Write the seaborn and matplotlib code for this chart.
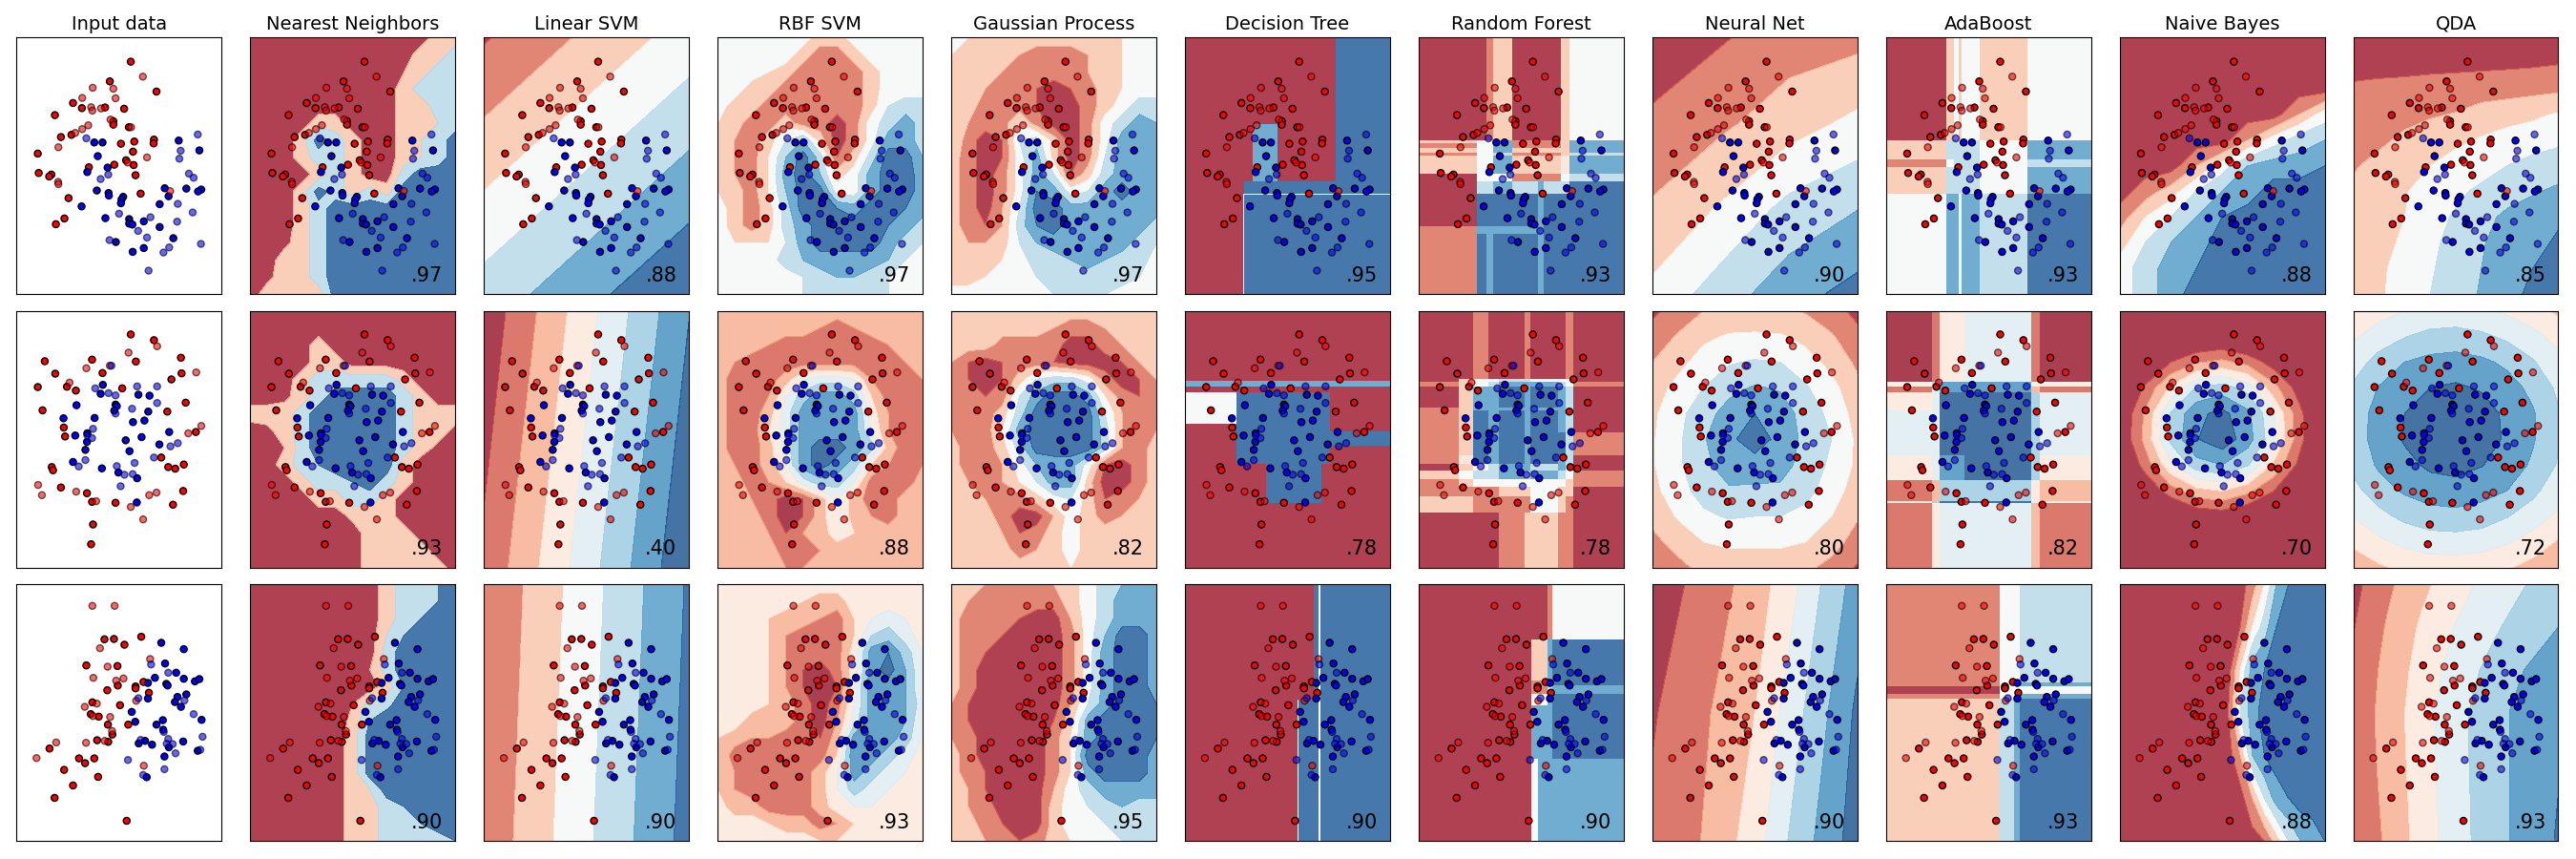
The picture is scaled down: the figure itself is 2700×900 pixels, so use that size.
import numpy as np
import pandas as pd
import seaborn as sns
import matplotlib.pyplot as plt

# ---------------------------
# 1. Scatter points (crop pixels)
# ---------------------------
moons_train_red = [(382,104),(316,166),(463,198),(200,234),(228,250),(301,248),(361,252),(143,272),(327,291),(327,302),(376,310),(162,341),(195,334),(393,355),(351,362),(455,349),(454,361),(89,393),(389,387),(367,414),(330,428),(391,429),(250,436),(92,454),(132,459),(125,465),(397,461),(186,533),(413,519),(173,597),(146,615)]
moons_test_red = [(420,151),(262,186),(327,189),(334,219),(229,218),(257,247),(261,258),(288,251),(318,286),(248,304),(229,316),(207,328),(383,310),(154,373),(433,405),(372,421),(153,482),(154,489),(506,511)]
moons_train_blue = [(267,358),(293,358),(533,352),(598,383),(278,401),(309,437),(245,451),(275,509),(312,517),(313,525),(358,529),(353,537),(351,549),(489,502),(557,503),(604,506),(594,512),(501,527),(473,552),(227,559),(302,596),(377,599),(377,613),(387,616),(423,606),(473,624),(516,659),(335,671),(423,690),(388,702)]
moons_test_blue = [(242,345),(593,333),(539,384),(535,409),(565,456),(580,469),(311,459),(287,473),(530,551),(577,578),(345,582),(444,593),(528,607),(405,636),(433,657),(315,665),(603,677),(503,688),(485,704),(438,761)]

circles_train_red = [(382,92),(455,110),(111,176),(260,171),(398,177),(540,165),(144,215),(293,213),(542,214),(510,233),(89,257),(181,256),(209,268),(355,261),(555,306),(104,330),(497,334),(171,384),(175,412),(587,398),(478,478),(133,508),(137,518),(500,508),(522,513),(549,500),(162,572),(244,590),(547,583),(260,617),(334,620),(515,626),(263,688),(257,750)]
circles_test_red = [(465,129),(375,149),(316,190),(242,198),(588,211),(189,243),(604,379),(563,402),(90,564),(102,596),(210,585),(273,615),(440,596),(463,588),(382,633),(421,672)]
circles_train_blue = [(294,250),(287,278),(406,281),(441,284),(211,314),(334,312),(338,317),(330,331),(437,334),(170,355),(268,354),(389,367),(425,362),(245,402),(207,409),(244,429),(366,424),(416,414),(503,398),(472,437),(239,454),(378,458),(200,492),(291,512),(343,525),(402,543),(401,619)]
circles_test_blue = [(321,190),(270,261),(312,276),(334,283),(402,255),(465,255),(465,307),(386,325),(334,340),(263,388),(245,408),(260,417),(530,433),(507,443),(455,478),(239,486),(218,506),(338,505),(394,495),(362,532),(388,530),(350,568)]

blobs_train_red = [(299,195),(329,194),(415,187),(362,212),(242,277),(340,279),(341,340),(397,343),(397,349),(422,329),(439,363),(308,355),(261,393),(348,402),(256,430),(281,438),(310,463),(374,463),(324,494),(276,512),(311,517),(126,538),(219,569),(238,584),(267,569),(172,605),(279,627),(200,654),(142,693),(369,765)]
blobs_test_red = [(261,90),(331,90),(285,223),(443,257),(309,281),(264,316),(359,318),(336,325),(275,397),(237,407),(399,388),(263,436),(317,439),(323,483),(300,514),(147,519),(241,520),(85,568),(423,592)]
blobs_train_blue = [(478,206),(549,226),(490,271),(525,300),(458,316),(436,332),(549,319),(584,327),(598,320),(494,335),(498,340),(436,381),(529,376),(557,368),(521,392),(540,407),(385,423),(396,454),(483,449),(463,463),(605,448),(484,479),(427,514),(407,522),(449,526),(547,516),(502,534),(593,545),(488,563),(432,628)]
blobs_test_blue = [(446,274),(500,300),(406,380),(551,387),(580,430),(486,486),(608,501),(413,511),(500,508),(495,523),(514,524),(523,553),(601,542),(373,574),(488,603),(421,621)]

# crop-pixel extents of the panels in each row
row_xlim = [(22, 668), (22, 668), (22, 668)]
row_ylim = [(28, 835), (18, 823), (22, 828)]

names = ["Input data", "Nearest Neighbors", "Linear SVM", "RBF SVM", "Gaussian Process",
         "Decision Tree", "Random Forest", "Neural Net", "AdaBoost", "Naive Bayes", "QDA"]
scores = [[".97", ".88", ".97", ".97", ".95", ".93", ".90", ".93", ".88", ".85"],
          [".93", ".40", ".88", ".82", ".78", ".78", ".80", ".82", ".70", ".72"],
          [".90", ".90", ".93", ".95", ".90", ".90", ".90", ".93", ".88", ".93"]]

# ---------------------------
# 2. Decision surfaces read by eye
# strings: one hex digit per node, value = band index * 2; lists: band index as float
# ---------------------------
knn_1 = ["0000000000044","0000000000448","0000000002488","0000000004888","0000000004488","0000440004668","0004c8400468c","000488400468c","0000484008ccc","0004c8484cccc","00048cccccccc","00048cccccccc","00148cccccccc","00448cccccccc","01448cccccccc","04444cccccccc"]
lin_1 = [[.40, 2.95], [3.92, 6.47]]
rbf_1 = ["6666664466666","6666642246666","6665422224666","6644222224666","6442222224788","54224220268a8","4324794026aa8","43259c8148cc9","5325ac946acca","54259cc66acca","64248ccbaccba","64248accccba8","65557acccca87","666689aaaa976","6666678998766","6666678888776"]
gp_1 = ["6544444444566","5444322234566","5443222234566","5432210124566","5422210024688","53225200268a9","5201784026aaa","42016a4027aaa","42026a7148aaa","42026ba67acaa","42037ccaaaaaa","42138bcaaaaa8","433479aaaaa87","44456889a9886","4456678888876","6666667777666"]
tree_1 = ([15,144,146,165,220,350,470], [118,390,570,608,611,925], ["00000c","000a0c","00cccc","066666","06cccc"])
rf_1 = ([535,665,685,700,742,800,812,850,868,989], [118,440,450,465,480,488,545,570,610,710,735,925],
        ["002400046","466a2224a","266a2224a","466a4444a","266822248","466a4445a","066622268","088a8a88c","0ccccaccc","2aaaaaccc","2caccaccc"])
mlp_1 = [[-.2, .4, 1.0, 1.2], [.7, 1.3, 2.05, 2.75], [1.63, 2.6, 3.8, 4.47], [2.75, 4.0, 5.1, 5.85]]
ada_1 = ([3,141,157,167,175,215,324,468], [118,440,500,525,610,925], ["0464646","488886a","2688868","488886a","6aa6a8c"])
nb_1 = ["000000000","000000000","000000000","000000036","000003689","000369aab","02479accc","2579bcccc","479accccc","68abccccc","68acccccc"]
qda_1 = [[-1,-1,-1,-1,-1,-.9,-.8,-.7,-.6],
         [0,.05,.1,.15,.2,.25,.3,.35,.45],
         [.7,.8,.85,.95,1.0,1.05,1.1,1.2,1.3],
         [.87,1.1,1.2,1.4,1.55,1.9,2.1,2.3,2.6],
         [1.15,1.3,1.7,2,2.3,2.6,2.9,3.1,3.3],
         [1.4,1.8,2.1,2.5,2.9,3.1,3.5,3.8,4.0],
         [1.7,2.0,2.4,3.0,3.3,3.7,4.1,4.4,4.7],
         [2,2.2,2.5,3.2,3.6,4.2,4.7,5,5.4],
         [2.1,2.3,2.6,3.3,3.8,4.4,5,5.3,5.6],
         [2.2,2.4,2.7,3.4,3.9,4.5,5,5.5,6],
         [2.3,2.4,2.8,3.5,4,4.6,5.2,5.7,6.1]]

knn_2 = ["0000000000000","0000000000000","0000400000000","0000440000000","0004888884000","00148cccc8400","4448ccccc8444","0148ccccc8441","0028ccccc8410","0048acccc4000","000488ac84000","0000448840000","0000003440000","0000000444000","0000000444400","0000000444440"]
lin_2 = [[-.22, 6.46], [.71, 7.39]]
rbf_2 = ["4444444444444","4444443234444","4443222222344","4322222222234","4212478873223","42237acca5223","42248cccc6322","42258cccc7322","42248ceeca422","43247ceca5323","442358aa72124","4432014742244","4442014743244","4443134654444","4444223444444","4444334444444"]
gp_2 = ["4444444444444","4444443223444","4442222002344","3101221000134","3101478862013","32127acca5213","32248cccc7323","3225acccc8323","42248cccc8324","421369aa61024","431357aa40024","4432246741234","4442003642344","4443124644444","4444234644444","4444444544444"]
tree_2 = ([15,130,195,318,336,470], [18,238,255,273,372,396,440,498,620,823], ["00000","aaaaa","00000","6ccc0","0ccc0","0cccc","0ccc0","00c00","00000"])
rf_2 = ([535,625,655,690,712,770,782,843,860,878,989], [18,230,240,255,320,330,400,470,498,520,545,570,600,650,823],
        ["0020020020","0466886660","2468aaa862","04aacaca80","24aaaaaa80","24cacaca80","24cacacc82","25cacaca80","0468aa8a60","4688a8a862","2466666642","2222446440","4422226420","0000244220"])
mlp_2 = [[.3,.9,1.5,1.8,1.8,1.7,1.4,.9,.2],
         [.9,1.6,2.3,2.6,2.65,2.6,2.2,1.6,.8],
         [1.5,2.2,2.9,3.4,3.6,3.5,2.9,2.2,1.3],
         [2.0,2.8,3.5,4.2,4.6,4.4,3.6,2.8,1.8],
         [2.3,3.2,4.1,4.9,5.5,5.0,4.1,3.2,2.1],
         [2.4,3.3,4.4,5.3,6.0,5.2,4.2,3.5,2.3],
         [2.4,3.3,4.3,4.9,5.1,4.9,4.1,3.3,2.3],
         [2.2,3.1,3.9,4.4,4.3,4.3,3.8,3.0,2.0],
         [1.8,2.6,3.3,3.6,3.5,3.5,3.2,2.5,1.6],
         [1.2,1.9,2.5,2.7,2.7,2.7,2.5,1.9,1.1],
         [.6,1.2,1.8,1.9,1.9,1.9,1.7,1.2,.4]]
ada_2 = ([3,108,124,180,332,352,468], [18,240,255,272,330,470,548,615,621,823], ["026820","6acc66","28cc42","68eea8","88eea8","68cea6","24aa64","6aee66","268842"])
nb_2 = [[-7,-6,-5,-4.5,-3.2,-4.5,-5,-6,-7],
        [-4.2,-2.8,-1.7,-1,-.8,-1.2,-2,-3.3,-4.8],
        [-2.6,-.9,.5,1.4,1.75,1.15,0,-1.5,-3.3],
        [-1.3,.7,2.7,4.55,4.98,4.1,1.9,0,-2],
        [-.6,1.65,4.6,6.25,6.8,5.75,3.6,.85,-1.35],
        [-.5,1.8,4.75,6.45,7.15,5.95,3.8,.9,-1.3],
        [-1.1,.95,3.3,5.1,5.5,4.6,2.35,.25,-1.85],
        [-2.2,-.45,1.05,2.2,2.55,1.8,.55,-1.1,-2.9],
        [-3.8,-2.2,-1.1,-.35,-.15,-.6,-1.5,-2.8,-4.4],
        [-5.5,-4.2,-3.3,-2.7,-2.6,-2.9,-3.7,-4.7,-6],
        [-7,-5.5,-5,-4.9,-4.8,-5,-5.4,-6.2,-7]]
qda_2 = [[2.5,3.1,3.5,3.75,3.8,3.65,3.35,2.9,2.3],
         [3.35,4.0,4.45,4.8,4.9,4.7,4.3,3.8,3.15],
         [4.05,4.85,5.5,5.8,5.9,5.7,5.3,4.6,3.8],
         [4.65,5.55,6.1,6.5,6.65,6.4,5.9,5.25,4.3],
         [5.0,5.85,6.5,7.15,7.4,6.95,6.3,5.6,4.6],
         [5.0,5.9,6.6,7.3,7.6,7.0,6.35,5.6,4.65],
         [4.75,5.65,6.2,6.7,6.85,6.55,6.05,5.35,4.4],
         [4.2,5.05,5.65,6.0,6.1,5.9,5.5,4.75,3.9],
         [3.55,4.2,4.75,5.1,5.2,5.0,4.55,4.0,3.3],
         [2.75,3.3,3.75,4.0,4.05,3.95,3.6,3.1,2.4],
         [1.8,2.35,2.75,2.95,3.0,2.85,2.6,2.15,1.55]]

knn_3 = ["00000000488ac","00000000488ac","0000000048acc","000000006accc","000000008cccc","000000028cccc","000000004accc","000000289cccc","0000003accccc","0000004cccccc","0000004cccccc","0000004cccccc","00000046ccccc","000000448accc","0000004488acc","000000448888a"]
lin_3 = [[.52, 5.62], [.77, 5.87]]
rbf_3 = ["6666666666666","6666654466666","6665443257876","6665322259a86","666532226cda7","666531026ceb7","666531017ccb7","666542027ccb8","664442038ccb7","54332214ccca7","52222225dca86","53222247ca876","53222247a8766","6442224677666","6665442356666","6666665566666"]
gp_3 = ["44322234689aa","4322222468aaa","4222100368aaa","4221000269cca","421000026acca","420000026acca","420000026acca","310000037accb","31000014acccb","32000025acccb","42000025cccca","42100025accca","431000368aaaa","4320004678988","4421004667888","4432124566788"]
tree_3 = ([15,265,268,300,312,315,470], [22,385,828], ["000c6c","06cc6c"])
rf_3 = ([535,785,800,820,832,989], [22,197,325,340,367,402,570,828], ["00026","044ac","0228c","0228a","066ac","0aaac","06aaa"])
mlp_3 = [[-.1, .53, 1.2, 1.96, 3.1, 4.6, 5.95], [.4, 1.0, 1.7, 2.5, 3.9, 5.3, 6.7], [.7, 1.15, 2.0, 3.05, 4.55, 5.85, 7.0]]
ada_3 = ([3,260,293,302,307,468], [22,330,342,365,380,828], ["26668","2666a","06666","2666a","48aac"])
nb_3 = ["00000000000259bccc","0000000000158bcccc","00000000005abccccc","00000000017acccccc","000000000039bccccc","0000000000037abccc","0000000000001479ab"]
qda_3 = [[.2,1.3,2.25,3.1,3.85,4.45,5.0],[.45,1.6,2.65,3.55,4.25,5.0,5.5],[.7,1.8,2.9,3.9,4.75,5.5,6.1],[.8,1.9,3.1,4.15,5.05,5.85,6.4],[.8,1.85,3.05,4.15,5.05,5.85,6.45],[.75,1.75,3.0,4.1,5.05,5.85,6.5],[.7,1.65,2.95,4.05,5.05,5.85,6.6]]

surfaces = [[knn_1, lin_1, rbf_1, gp_1, tree_1, rf_1, mlp_1, ada_1, nb_1, qda_1],
            [knn_2, lin_2, rbf_2, gp_2, tree_2, rf_2, mlp_2, ada_2, nb_2, qda_2],
            [knn_3, lin_3, rbf_3, gp_3, tree_3, rf_3, mlp_3, ada_3, nb_3, qda_3]]
n_bands = [[7, 7, 7, 7, 7, 7, 7, 7, 7, 7],
           [7, 8, 8, 7, 7, 7, 7, 8, 8, 8],
           [7, 7, 8, 7, 7, 7, 8, 7, 7, 8]]


def parse(rows):
    if isinstance(rows[0], str):
        return np.array([[int(c, 16) / 2 for c in r] for r in rows])
    return np.array(rows, dtype=float)


def points(train_red, test_red, train_blue, test_blue):
    parts = []
    for pts, cls, subset in [(train_red, "red", "train"), (test_red, "red", "test"),
                             (train_blue, "blue", "train"), (test_blue, "blue", "test")]:
        d = pd.DataFrame(pts, columns=["x", "y"])
        d["cls"] = cls
        d["subset"] = subset
        parts.append(d)
    return pd.concat(parts, ignore_index=True)


tables = [points(moons_train_red, moons_test_red, moons_train_blue, moons_test_blue),
          points(circles_train_red, circles_test_red, circles_train_blue, circles_test_blue),
          points(blobs_train_red, blobs_test_red, blobs_train_blue, blobs_test_blue)]

# ---------------------------
# 3. Styling
# ---------------------------
sns.set_style("white", {"axes.edgecolor": "black", "text.color": "black"})
plt.rcParams["font.family"] = ["DejaVu Sans"]
bright = {"red": "#FF0000", "blue": "#0000FF"}
rdbu = sns.color_palette("RdBu", as_cmap=True)

fig, axes = plt.subplots(3, 11, figsize=(27, 9))
fig.subplots_adjust(left=17.3 / 2700, right=2681.5 / 2700, top=1 - 39.3 / 900, bottom=1 - 881 / 900,
                    wspace=0.1395, hspace=0.065)


def draw_points(ax, df):
    for subset, a in [("train", 1.0), ("test", 0.6)]:
        sns.scatterplot(data=df[df["subset"] == subset], x="x", y="y", hue="cls", palette=bright,
                        s=26, edgecolor="k", linewidth=1, alpha=a, legend=False, ax=ax)


def draw_surface(ax, surf, n, xlim, ylim, only_even=False):
    x0, x1 = xlim
    y0, y1 = ylim
    if isinstance(surf, tuple):
        xe, ye, cells = surf
        X = x0 + (np.array(xe) - xe[0]) / (xe[-1] - xe[0]) * (x1 - x0)
        Y = y0 + (np.array(ye) - ye[0]) / (ye[-1] - ye[0]) * (y1 - y0)
        ax.pcolormesh(X, Y, parse(cells), cmap=rdbu, vmin=-0.5, vmax=n - 0.5, alpha=0.8)
        return
    Z = parse(surf)
    X = np.linspace(x0, x1, Z.shape[1])
    Y = np.linspace(y0, y1, Z.shape[0])
    # nearest neighbours only vote in thirds, so only every second band exists there
    bands = np.arange(0, n, 2) if only_even else np.arange(n)
    inner = (bands[:-1] + bands[1:]) / 2
    levels = np.concatenate([[-99], inner, [99]])
    colors = [rdbu((b + 0.5) / n) for b in bands]
    ax.contourf(X, Y, Z, levels=levels, colors=colors, alpha=0.8)


# ---------------------------
# 4. Panels
# ---------------------------
for i in range(3):
    for j in range(11):
        ax = axes[i, j]
        if j > 0:
            draw_surface(ax, surfaces[i][j - 1], n_bands[i][j - 1], row_xlim[i], row_ylim[i], only_even=(j == 1))
            ax.text(0.94, 0.05, scores[i][j - 1], size=15, ha="right", transform=ax.transAxes)
        draw_points(ax, tables[i])
        ax.set_xlim(*row_xlim[i])
        ax.set_ylim(row_ylim[i][1], row_ylim[i][0])
        ax.set_xticks(())
        ax.set_yticks(())
        ax.set_xlabel("")
        ax.set_ylabel("")
        if i == 0:
            ax.set_title(names[j], fontsize=14)

plt.savefig("out.png", dpi=100)
plt.close()
